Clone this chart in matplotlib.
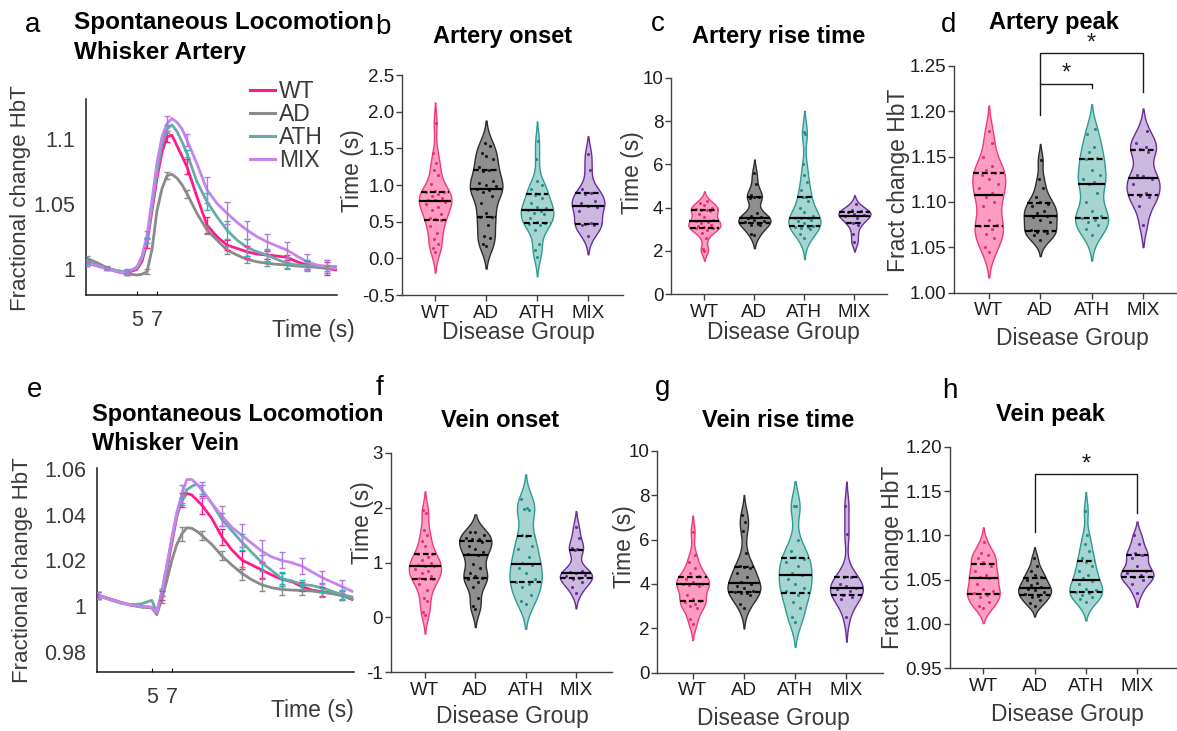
import numpy as np
import matplotlib
matplotlib.use("Agg")
import matplotlib.pyplot as plt
from matplotlib.lines import Line2D

plt.rcParams["font.family"] = ["Liberation Sans", "DejaVu Sans"]
plt.rcParams["axes.unicode_minus"] = False

GROUPS = ["WT", "AD", "ATH", "MIX"]

# ---------------- time courses (fractional change HbT) ----------------
T_ART = [0, 1, 2, 3, 4, 5, 5.5, 6, 6.5, 7, 7.5, 8, 8.5, 9, 9.5, 10,
         11, 12, 13, 14, 15, 16, 17, 18, 19, 20, 21, 22, 23, 24, 25]
ART_WT = [1.0044, 1.0026, 1.0005, 0.9987, 0.9972, 0.9997,
          1.006, 1.020, 1.045, 1.070, 1.090, 1.102, 1.103, 1.095, 1.087, 1.0787,
          1.0556, 1.0338, 1.0249, 1.0185, 1.0159, 1.0133, 1.0115, 1.0108, 1.0100,
          1.0090, 1.0056, 1.0031, 1.0018, 1.0005, 0.9992]
ART_AD = [1.0082, 1.0049, 1.0010, 0.9979, 0.9962, 0.9954,
          0.996, 0.998, 1.015, 1.045, 1.062, 1.072, 1.073, 1.070, 1.065, 1.058,
          1.0428, 1.0300, 1.0223, 1.0146, 1.0108, 1.0074, 1.0056, 1.0044, 1.0036,
          1.0031, 1.0023, 1.0018, 1.0013, 1.0005, 1.0005]
ART_ATH = [1.0056, 1.0031, 1.0005, 0.9987, 0.9979, 1.0005,
           1.008, 1.022, 1.048, 1.075, 1.096, 1.108, 1.111, 1.106, 1.098, 1.089,
           1.0672, 1.0518, 1.0403, 1.0300, 1.0223, 1.0167, 1.0133, 1.0108, 1.0074,
           1.0044, 1.0031, 1.0026, 1.0023, 1.0023, 1.0018]
ART_MIX = [1.0044, 1.0023, 1.0000, 0.9979, 0.9972, 1.0018,
           1.010, 1.026, 1.053, 1.082, 1.102, 1.112, 1.116, 1.113, 1.108, 1.0992,
           1.081, 1.061, 1.0505, 1.043, 1.036, 1.030, 1.0249, 1.021, 1.0177,
           1.0146, 1.010, 1.0056, 1.0031, 1.0018, 1.0005]
ERR_T_ART = [0, 2, 4, 6, 8, 10, 12, 14, 16, 18, 20, 22, 24]
ERR_ART_WT = [0.002, 0.001, 0.002, 0.004, 0.004, 0.0058, 0.0064, 0.004, 0.0045, 0.003, 0.002, 0.003, 0.005]
ERR_ART_AD = [0.002, 0.001, 0.001, 0.002, 0.003, 0.003, 0.003, 0.003, 0.003, 0.002, 0.002, 0.002, 0.002]
ERR_ART_ATH = [0.002, 0.001, 0.002, 0.002, 0.003, 0.0026, 0.0064, 0.007, 0.0064, 0.005, 0.0045, 0.004, 0.005]
ERR_ART_MIX = [0.002, 0.001, 0.002, 0.003, 0.006, 0.0045, 0.010, 0.0083, 0.007, 0.006, 0.006, 0.006, 0.005]

T_VEIN = [-0.4, 1, 2, 3, 4, 5, 5.5, 6, 6.5, 7, 7.5, 8, 8.5, 9, 9.5, 10,
          11, 12, 13, 14, 15, 16, 17, 18, 19, 20, 21, 22, 23, 24, 25]
VEIN_WT = [1.0048, 1.0029, 1.0015, 1.0004, 0.9997, 0.9994,
           0.9968, 1.0048, 1.0158, 1.0275, 1.0392, 1.0465, 1.0494, 1.0487, 1.0465, 1.0443,
           1.0384, 1.0304, 1.0246, 1.0202, 1.0180, 1.0158, 1.0136, 1.0117, 1.0107,
           1.0085, 1.0070, 1.0063, 1.0056, 1.0048, 1.0029]
VEIN_AD = [1.0048, 1.0027, 1.0013, 1.0003, 0.9995, 0.9992,
           0.9962, 1.003, 1.011, 1.020, 1.027, 1.0316, 1.0343, 1.0341, 1.0328, 1.031,
           1.027, 1.022, 1.018, 1.0143, 1.0115, 1.0093, 1.008, 1.0073, 1.007,
           1.0068, 1.0066, 1.006, 1.0055, 1.0045, 1.003]
VEIN_ATH = [1.0045, 1.0025, 1.0012, 1.0006, 1.001, 1.0025,
            0.9975, 1.006, 1.017, 1.029, 1.040, 1.046, 1.051, 1.0525, 1.0535, 1.051,
            1.045, 1.038, 1.033, 1.028, 1.0235, 1.019, 1.0155, 1.012, 1.011,
            1.0095, 1.009, 1.008, 1.0065, 1.005, 1.004]
VEIN_MIX = [1.0046, 1.0027, 1.0014, 1.0003, 0.9997, 0.9995,
            0.997, 1.006, 1.018, 1.030, 1.041, 1.049, 1.0555, 1.0555, 1.0535, 1.051,
            1.045, 1.0395, 1.0345, 1.031, 1.0275, 1.024, 1.0215, 1.020, 1.019,
            1.0175, 1.015, 1.0125, 1.0105, 1.0085, 1.0065]
ERR_T_VEIN = [-0.4, 6, 8, 10, 12, 14, 16, 18, 20, 22, 24]
ERR_VEIN_WT = [0.0015, 0.002, 0.003, 0.004, 0.0035, 0.004, 0.0035, 0.003, 0.002, 0.002, 0.002]
ERR_VEIN_AD = [0.0015, 0.0015, 0.003, 0.002, 0.002, 0.003, 0.0025, 0.0025, 0.002, 0.002, 0.002]
ERR_VEIN_ATH = [0.0015, 0.0015, 0.0015, 0.002, 0.003, 0.0035, 0.0035, 0.003, 0.002, 0.002, 0.002]
ERR_VEIN_MIX = [0.0015, 0.0015, 0.004, 0.0035, 0.0045, 0.005, 0.005, 0.0035, 0.0035, 0.003, 0.003]

# ---------------- per-animal measurements ----------------
ART_ONSET_WT = [1.84, 1.43, 1.30, 1.20, 1.14, 1.02, 0.92, 0.90, 0.90, 0.88, 0.85, 0.82, 0.80, 0.79,
                0.77, 0.74, 0.70, 0.66, 0.61, 0.55, 0.53, 0.52, 0.44, 0.35, 0.27, 0.20, 0.14, 0.09]
ART_ONSET_AD = [0.17, 0.20, 0.28, 0.30, 0.45, 0.56, 0.57, 0.62, 0.75, 0.85, 0.90, 0.93, 0.95,
                0.98, 1.00, 1.03, 1.05, 1.19, 1.20, 1.25, 1.35, 1.40, 1.43, 1.53, 1.57]
ART_ONSET_ATH = [0.02, 0.12, 0.20, 0.38, 0.45, 0.47, 0.48, 0.50, 0.55, 0.60, 0.62, 0.65, 0.66,
                 0.68, 0.70, 0.75, 0.82, 0.87, 0.88, 0.95, 1.00, 1.05, 1.35, 1.60]
ART_ONSET_MIX = [0.30, 0.45, 0.46, 0.47, 0.48, 0.65, 0.70, 0.72, 0.75, 0.78, 0.88, 0.89, 0.95, 1.20, 1.42]

ART_RISE_WT = [2.0, 2.1, 2.6, 2.85, 2.95, 3.05, 3.07, 3.1, 3.15, 3.2, 3.3, 3.35, 3.38, 3.45,
               3.55, 3.7, 3.85, 3.88, 3.9, 3.92, 4.0, 4.1, 4.2, 4.3]
ART_RISE_AD = [2.75, 2.8, 3.2, 3.22, 3.25, 3.35, 3.4, 3.45, 3.5, 3.55, 3.6, 3.75, 4.45, 4.5,
               4.5, 4.6, 5.1, 5.6]
ART_RISE_ATH = [2.6, 2.8, 3.0, 3.05, 3.1, 3.12, 3.14, 3.3, 3.4, 3.45, 3.5, 3.5, 3.52, 3.6,
                3.8, 4.0, 4.3, 4.5, 4.5, 4.8, 5.2, 5.5, 6.0, 7.4, 7.5]
ART_RISE_MIX = [2.4, 2.8, 3.2, 3.3, 3.5, 3.6, 3.65, 3.7, 3.8, 3.85, 3.9, 4.15]

ART_PEAK_WT = [1.045, 1.05, 1.06, 1.065, 1.07, 1.073, 1.075, 1.08, 1.095, 1.10, 1.105, 1.11,
               1.115, 1.12, 1.125, 1.13, 1.132, 1.135, 1.14, 1.15, 1.165, 1.178]
ART_PEAK_AD = [1.058, 1.063, 1.066, 1.067, 1.068, 1.069, 1.078, 1.08, 1.083, 1.085, 1.088,
               1.09, 1.095, 1.098, 1.10, 1.105, 1.115, 1.125, 1.146]
ART_PEAK_ATH = [1.063, 1.07, 1.075, 1.078, 1.08, 1.082, 1.085, 1.09, 1.10, 1.11, 1.12, 1.122,
                1.125, 1.13, 1.135, 1.147, 1.148, 1.155, 1.16, 1.175, 1.18]
ART_PEAK_MIX = [1.075, 1.095, 1.105, 1.107, 1.11, 1.12, 1.125, 1.128, 1.13, 1.155, 1.158,
                1.16, 1.165, 1.178]

VEIN_ONSET_WT = [0.05, 0.1, 0.3, 0.35, 0.5, 0.6, 0.7, 0.7, 0.72, 0.75, 0.8, 0.85, 0.88, 0.93,
                 0.94, 0.95, 1.0, 1.05, 1.1, 1.15, 1.16, 1.3, 1.4, 1.5, 1.6, 1.9, 1.95]
VEIN_ONSET_AD = [0.15, 0.2, 0.35, 0.55, 0.65, 0.7, 0.72, 0.75, 0.8, 0.9, 0.98, 1.14, 1.15,
                 1.2, 1.25, 1.3, 1.38, 1.42, 1.42, 1.45, 1.5, 1.55, 1.55]
VEIN_ONSET_ATH = [0.25, 0.3, 0.4, 0.55, 0.6, 0.65, 0.7, 0.8, 0.9, 0.95, 1.0, 1.1, 1.25, 1.3,
                  1.48, 1.5, 1.95, 1.97, 2.0, 2.15]
VEIN_ONSET_MIX = [0.45, 0.55, 0.65, 0.7, 0.72, 0.75, 0.78, 0.8, 0.82, 0.85, 1.22, 1.25, 1.26,
                  1.45, 1.65]

VEIN_RISE_WT = [2.2, 2.4, 2.9, 3.0, 3.1, 3.2, 3.25, 3.3, 3.5, 3.9, 3.95, 4.0, 4.0, 4.0, 4.1,
                4.2, 4.35, 4.5, 4.7, 5.0, 5.3, 6.35]
VEIN_RISE_AD = [2.9, 3.1, 3.5, 3.6, 3.6, 3.65, 3.7, 3.8, 3.9, 4.0, 4.1, 4.3, 4.5, 4.7, 4.75,
                4.8, 5.4, 6.4, 6.8, 7.1]
VEIN_RISE_ATH = [2.3, 2.5, 2.9, 3.2, 3.5, 3.7, 3.8, 4.0, 4.2, 4.4, 4.5, 4.8, 5.0, 5.1, 5.2,
                 5.5, 6.0, 7.5, 7.5]
VEIN_RISE_MIX = [2.5, 3.3, 3.4, 3.5, 3.7, 3.75, 3.8, 3.9, 4.0, 4.32, 4.3, 6.25, 7.5]

VEIN_PEAK_WT = [1.018, 1.02, 1.025, 1.03, 1.033, 1.035, 1.037, 1.04, 1.045, 1.052, 1.053,
                1.055, 1.06, 1.065, 1.07, 1.075, 1.078, 1.08, 1.092]
VEIN_PEAK_AD = [1.02, 1.024, 1.027, 1.03, 1.032, 1.034, 1.036, 1.038, 1.04, 1.042, 1.044,
                1.046, 1.05, 1.053, 1.055, 1.06, 1.065, 1.075]
VEIN_PEAK_ATH = [1.025, 1.028, 1.03, 1.033, 1.035, 1.036, 1.038, 1.04, 1.045, 1.048, 1.052,
                 1.055, 1.06, 1.065, 1.07, 1.075, 1.082, 1.09, 1.10, 1.128]
VEIN_PEAK_MIX = [1.035, 1.045, 1.05, 1.053, 1.055, 1.058, 1.06, 1.065, 1.075, 1.078, 1.08,
                 1.09, 1.10]

# ---------------- styling ----------------
LINE_COLORS = ["#FF1A8C", "#8A8A8A", "#67ABA6", "#C584F0"]
ERR_COLORS = ["#FF1A8C", "#8A8A8A", "#1FBFB2", "#B477E0"]
FILL_COLORS = ["#FF9DC0", "#8E8E8E", "#A6D5D1", "#CAB8DE"]
EDGE_COLORS = ["#F0397D", "#2E2E2E", "#2E9B93", "#6A2C9C"]
DOT_COLORS = ["#E52F78", "#1A1A1A", "#22938B", "#6A2C9C"]
TXT = "#1E1E1E"
LBL = "#3A3A3A"
SPINE = "#404040"

W, H = 1177, 731
fig = plt.figure(figsize=(W / 100, H / 100), dpi=100)


def add_ax(left, top, right, bottom):
    return fig.add_axes([left / W, 1 - bottom / H, (right - left) / W, (bottom - top) / H])


def ftext(x, y, s, **kw):
    kw.setdefault("ha", "center")
    kw.setdefault("va", "center")
    fig.text(x / W, 1 - y / H, s, **kw)


def time_course(ax, t, curves, err_t, errs, xlim, ylim, yticks, ylabels):
    t = list(t)
    for vals, col in zip(curves, LINE_COLORS):
        ax.plot(t, vals, color=col, lw=2.0, solid_joinstyle="round", zorder=2)
    for vals, e, col in zip(curves, errs, ERR_COLORS):
        idx = [t.index(x) for x in err_t]
        ax.errorbar([t[i] for i in idx], [vals[i] for i in idx], yerr=e, fmt="none",
                    ecolor=col, elinewidth=1.0, capsize=2.2, capthick=1.0, zorder=3)
    ax.set_xlim(*xlim)
    ax.set_ylim(*ylim)
    ax.set_xticks([5, 7])
    ax.set_xticklabels(["5", "7"])
    ax.set_yticks(yticks)
    ax.set_yticklabels(ylabels)
    for s in ("top", "right"):
        ax.spines[s].set_visible(False)
    for s in ("left", "bottom"):
        ax.spines[s].set_linewidth(1.1)
        ax.spines[s].set_color("#1a1a1a")
    ax.tick_params(axis="x", direction="in", length=3, width=0.8, pad=11,
                   labelsize=15.5, labelcolor=LBL)
    ax.tick_params(axis="y", direction="in", length=0, pad=8, labelsize=15.5, labelcolor=LBL)


def violin_panel(ax, groups, xlim, ylim, yticks, fmt):
    half_max = 0.32
    for i, vals in enumerate(groups):
        pos = i + 1
        v = np.asarray(vals, dtype=float)
        n = v.size
        scott = v.std(ddof=1) * n ** (-0.2)
        bw = 0.7 * scott
        grid = np.linspace(v.min() - 1.4 * scott, v.max() + 1.4 * scott, 400)
        dens = np.exp(-0.5 * ((grid[:, None] - v[None, :]) / bw) ** 2).sum(axis=1)
        half = dens / dens.max() * half_max
        ax.fill_betweenx(grid, pos - half, pos + half, facecolor=FILL_COLORS[i],
                         edgecolor=EDGE_COLORS[i], lw=1.0, zorder=2)
        q1, med, q3 = np.percentile(v, [25, 50, 75])
        for q, ls in ((q1, (0, (2.6, 1.4))), (med, "-"), (q3, (0, (2.6, 1.4)))):
            w = np.interp(q, grid, half)
            ax.plot([pos - w, pos + w], [q, q], color="black", lw=1.6, ls=ls,
                    solid_capstyle="butt", zorder=4)
        pattern = [0.0, -0.5, 0.5, -0.25, 0.25, -0.7, 0.7]
        xs = np.empty(n)
        for rank, k in enumerate(np.argsort(v, kind="stable")):
            w = np.interp(v[k], grid, half)
            xs[k] = pos + pattern[rank % len(pattern)] * w * 0.85
        ax.scatter(xs, v, s=5, color=DOT_COLORS[i], lw=0, zorder=3)
    ax.set_xlim(*xlim)
    ax.set_ylim(*ylim)
    ax.set_xticks([1, 2, 3, 4])
    ax.set_xticklabels(GROUPS)
    ax.set_yticks(yticks)
    ax.set_yticklabels([fmt.format(y) for y in yticks])
    for s in ("top", "right"):
        ax.spines[s].set_visible(False)
    for s in ("left", "bottom"):
        ax.spines[s].set_linewidth(1.0)
        ax.spines[s].set_color(SPINE)
    ax.tick_params(axis="both", direction="out", length=4, width=1.0, color=SPINE,
                   labelsize=13.5, labelcolor=TXT)
    ax.tick_params(axis="y", pad=1.5)
    ax.tick_params(axis="x", pad=3)


def bracket(ax, x0, x1, y, y0_end, y1_end, star_y):
    ax.plot([x0, x0, x1, x1], [y0_end, y, y, y1_end], color="#1a1a1a", lw=1.0,
            clip_on=False, zorder=5)
    ax.text((x0 + x1) / 2, star_y, "*", ha="center", va="center", fontsize=17,
            color="#1a1a1a", clip_on=False)


# ---------------- a: artery time course ----------------
ax_a = add_ax(86, 99, 337, 295)
time_course(ax_a, T_ART, [ART_WT, ART_AD, ART_ATH, ART_MIX], ERR_T_ART,
            [ERR_ART_WT, ERR_ART_AD, ERR_ART_ATH, ERR_ART_MIX],
            (-0.1, 25.0), (0.98, 1.131), [1.0, 1.05, 1.1], ["1", "1.05", "1.1"])
handles = [Line2D([], [], color=c, lw=2.2) for c in LINE_COLORS]
ax_a.legend(handles, GROUPS, loc="upper left", bbox_to_anchor=(250 / W, 1 - 80 / H),
            bbox_transform=fig.transFigure, frameon=False, fontsize=16.5,
            handlelength=1.1, handletextpad=0.15, labelspacing=0.0, borderpad=0,
            borderaxespad=0, labelcolor=LBL)
ftext(33, 25, "a", fontsize=20)
ftext(74, 23, "Spontaneous Locomotion", ha="left", fontsize=17.5, fontweight="bold")
ftext(74, 52, "Whisker Artery", ha="left", fontsize=17.5, fontweight="bold")
ftext(21, 198, "Fractional change HbT", rotation=90, fontsize=16, color=LBL)
ftext(313, 330, "Time (s)", fontsize=16.5, color=LBL)

# ---------------- e: vein time course ----------------
ax_e = add_ax(97.3, 468.3, 354, 671.7)
time_course(ax_e, T_VEIN, [VEIN_WT, VEIN_AD, VEIN_ATH, VEIN_MIX], ERR_T_VEIN,
            [ERR_VEIN_WT, ERR_VEIN_AD, ERR_VEIN_ATH, ERR_VEIN_MIX],
            (-0.44, 25.2), (0.9712, 1.0604), [0.98, 1.0, 1.02, 1.04, 1.06],
            ["0.98", "1", "1.02", "1.04", "1.06"])
ftext(35, 390, "e", fontsize=20)
ftext(92, 415, "Spontaneous Locomotion", ha="left", fontsize=17, fontweight="bold")
ftext(92, 443, "Whisker Vein", ha="left", fontsize=17, fontweight="bold")
ftext(23, 570, "Fractional change HbT", rotation=90, fontsize=16, color=LBL)
ftext(312, 710, "Time (s)", fontsize=16.5, color=LBL)

# ---------------- violin panels ----------------
ax_b = add_ax(402, 75, 622.7, 295)
violin_panel(ax_b, [ART_ONSET_WT, ART_ONSET_AD, ART_ONSET_ATH, ART_ONSET_MIX],
             (0.35, 4.68), (-0.5, 2.5), [-0.5, 0.0, 0.5, 1.0, 1.5, 2.0, 2.5], "{:.1f}")
ftext(383, 27, "b", fontsize=20)
ftext(503, 36, "Artery onset", fontsize=17, fontweight="bold")
ftext(353, 171, "Time (s)", rotation=90, fontsize=16.5, color=LBL)
ftext(518, 333, "Disease Group", fontsize=16.5, color=LBL)

ax_c = add_ax(671, 77.7, 887, 294.3)
violin_panel(ax_c, [ART_RISE_WT, ART_RISE_AD, ART_RISE_ATH, ART_RISE_MIX],
             (0.334, 4.65), (0, 10), [0, 2, 4, 6, 8, 10], "{:d}")
ftext(658, 24, "c", fontsize=20)
ftext(779, 36, "Artery rise time", fontsize=17, fontweight="bold")
ftext(632, 173, "Time (s)", rotation=90, fontsize=16.5, color=LBL)
ftext(783, 332, "Disease Group", fontsize=16.5, color=LBL)

ax_d = add_ax(954.3, 65.7, 1177, 292.7)
violin_panel(ax_d, [ART_PEAK_WT, ART_PEAK_AD, ART_PEAK_ATH, ART_PEAK_MIX],
             (0.33, 4.66), (1.0, 1.25), [1.00, 1.05, 1.10, 1.15, 1.20, 1.25], "{:.2f}")
bracket(ax_d, 2, 4, 1.2637, 1.2295, 1.2214, 1.2747)
bracket(ax_d, 2, 3, 1.2295, 1.1957, 1.2251, 1.2409)
ftext(949, 25, "d", fontsize=20)
ftext(1054, 23, "Artery peak", fontsize=17, fontweight="bold")
ftext(898, 180, "Fract change HbT", rotation=90, fontsize=16.5, color=LBL)
ftext(1072, 338, "Disease Group", fontsize=16.5, color=LBL)

ax_f = add_ax(390.7, 452.7, 611.7, 672.3)
violin_panel(ax_f, [VEIN_ONSET_WT, VEIN_ONSET_AD, VEIN_ONSET_ATH, VEIN_ONSET_MIX],
             (0.32, 4.71), (-1, 3), [-1, 0, 1, 2, 3], "{:d}")
ftext(380, 388, "f", fontsize=20)
ftext(500, 420, "Vein onset", fontsize=17, fontweight="bold")
ftext(362, 523, "Time (s)", rotation=90, fontsize=16.5, color=LBL)
ftext(512, 717, "Disease Group", fontsize=16.5, color=LBL)

ax_g = add_ax(657.3, 450.7, 883.3, 672.7)
violin_panel(ax_g, [VEIN_RISE_WT, VEIN_RISE_AD, VEIN_RISE_ATH, VEIN_RISE_MIX],
             (0.31, 4.72), (0, 10), [0, 2, 4, 6, 8, 10], "{:d}")
ftext(663, 388, "g", fontsize=20)
ftext(778, 420, "Vein rise time", fontsize=17, fontweight="bold")
ftext(625, 547, "Time (s)", rotation=90, fontsize=16.5, color=LBL)
ftext(773, 718, "Disease Group", fontsize=16.5, color=LBL)

ax_h = add_ax(950, 446.7, 1177, 668.3)
violin_panel(ax_h, [VEIN_PEAK_WT, VEIN_PEAK_AD, VEIN_PEAK_ATH, VEIN_PEAK_MIX],
             (0.35, 4.78), (0.95, 1.20), [0.95, 1.00, 1.05, 1.10, 1.15, 1.20], "{:.2f}")
bracket(ax_h, 2, 4, 1.1689, 1.104, 1.1249, 1.1794)
ftext(950, 391, "h", fontsize=20)
ftext(1050, 415, "Vein peak", fontsize=17, fontweight="bold")
ftext(892, 557, "Fract change HbT", rotation=90, fontsize=16.5, color=LBL)
ftext(1067, 715, "Disease Group", fontsize=16.5, color=LBL)

fig.savefig("out.png", dpi=100, facecolor="white")
